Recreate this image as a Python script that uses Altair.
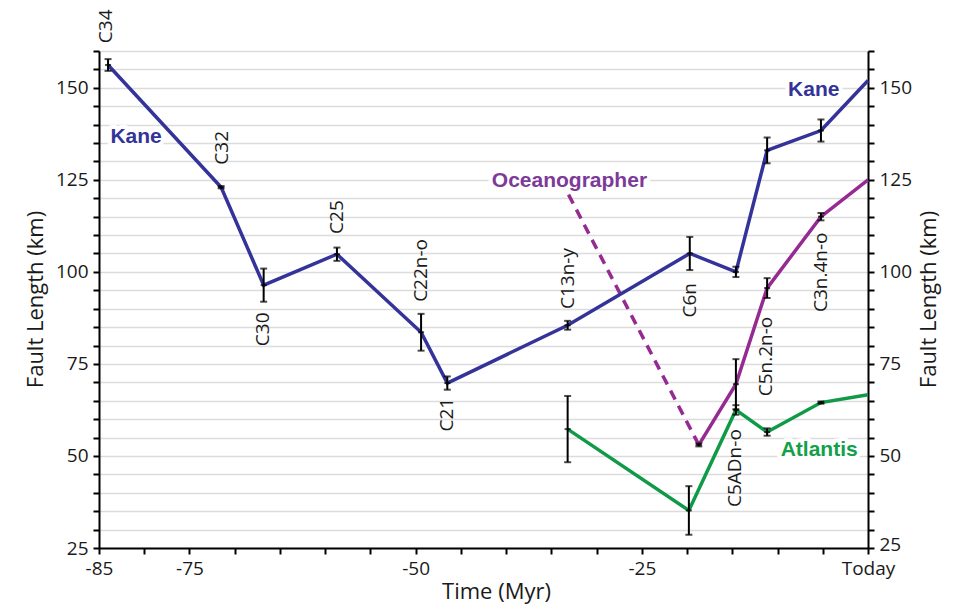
import altair as alt
import pandas as pd

# ---------------- data ----------------
kane_time = [-84.0, -71.5, -66.8, -58.7, -49.4, -46.5, -33.2, -19.7, -14.6, -11.15, -5.2, 0.0]
kane_len = [156.2, 123.0, 96.4, 104.8, 83.6, 69.8, 85.5, 105.0, 100.0, 133.0, 138.4, 152.0]
kane_err = [1.6, 0.3, 4.5, 1.8, 5.0, 1.8, 1.2, 4.5, 1.4, 3.5, 3.0, 0.0]

atl_time = [-33.2, -19.8, -14.6, -11.15, -5.2, 0.0]
atl_len = [57.3, 35.2, 62.5, 56.5, 64.5, 66.6]
atl_err = [9.0, 6.6, 1.3, 1.0, 0.3, 0.0]

oce_time = [-18.7, -14.6, -11.15, -5.2, 0.0]
oce_len = [53.0, 69.5, 95.6, 115.0, 125.0]
oce_err = [0.4, 6.8, 2.7, 1.0, 0.0]

oce_dash_time = [-33.1, -18.7]
oce_dash_len = [121.0, 53.0]

chron_labels = ["C34", "C32", "C30", "C25", "C22n-o", "C21", "C13n-y", "C6n",
                "C5ADn-o", "C5n.2n-o", "C3n.4n-o"]
chron_time = [-84.2, -71.4, -66.9, -58.7, -49.4, -46.5, -33.2, -19.7, -14.7, -11.3, -5.2]
chron_ypos = [166.7, 133.7, 84.4, 114.9, 100.4, 61.2, 98.2, 92.3, 46.7, 77.0, 99.9]

series_names = ["Kane", "Kane", "Oceanographer", "Atlantis"]
series_time = [-80.9, -6.0, -33.0, -5.4]
series_ypos = [136.7, 149.5, 124.7, 51.6]
series_colors = ["#33339a", "#33339a", "#7d3a98", "#12a04a"]

x_ticks = list(range(-85, 1, 5))
y_ticks = list(range(25, 161, 5))

KANE = "#33339a"
ATL = "#0f9a48"
OCE = "#952a90"

# ---------------- tables ----------------
kane_df = pd.DataFrame({"t": kane_time, "v": kane_len})
atl_df = pd.DataFrame({"t": atl_time, "v": atl_len})
oce_df = pd.DataFrame({"t": oce_time, "v": oce_len})
dash_df = pd.DataFrame({"t": oce_dash_time, "v": oce_dash_len})

err_rows = []
for ts, vs, es in [(kane_time, kane_len, kane_err), (atl_time, atl_len, atl_err),
                   (oce_time, oce_len, oce_err)]:
    for t, v, e in zip(ts, vs, es):
        if e > 0.2:
            err_rows.append({"t": t, "v": v, "lo": v - e, "hi": v + e})
err_df = pd.DataFrame(err_rows)

chron_df = pd.DataFrame({"label": chron_labels, "t": chron_time, "v": chron_ypos})
series_df = pd.DataFrame({"name": series_names, "t": series_time, "v": series_ypos,
                          "c": series_colors})

xscale = alt.Scale(domain=[-85, 0], nice=False, zero=False)
yscale = alt.Scale(domain=[25, 160], nice=False, zero=False)

FONT = "Open Sans"
TXT = "#1a1a1a"

x_axis = alt.Axis(
    values=x_ticks,
    labelExpr="datum.value == 0 ? 'Today' : ((datum.value == -85 || datum.value == -75 || datum.value == -50 || datum.value == -25) ? '-' + toString(-datum.value) : '')",
    tickSize=6, tickWidth=2, tickColor="black",
    domainColor="black", domainWidth=2,
    labelFont=FONT, labelFontSize=19, labelColor=TXT, labelPadding=5,
    labelFlush=False, labelOverlap=False, grid=False,
    title="Time (Myr)", titleFont=FONT, titleFontSize=22, titleFontWeight="normal",
    titleColor=TXT, titleX=397, titleY=43, titleBaseline="middle", titleAlign="center",
)

def y_axis(orient):
    common = dict(
        orient=orient,
        values=y_ticks,
        labelExpr="(datum.value % 25 == 0 && datum.value <= 150) ? toString(datum.value) : ''",
        tickSize=6, tickWidth=2, tickColor="black",
        domainColor="black", domainWidth=2,
        labelFont=FONT, labelFontSize=19, labelColor=TXT, labelPadding=5,
        labelOverlap=False,
        title="Fault Length (km)", titleFont=FONT, titleFontSize=22,
        titleFontWeight="normal", titleColor=TXT,
        titleAngle=270, titleY=248, titleBaseline="middle", titleAlign="center",
    )
    if orient == "left":
        return alt.Axis(grid=True, gridColor="#dcdcdc", gridWidth=1.5, titleX=-64, **common)
    return alt.Axis(grid=False, titleX=60,
                    labelOffset={"condition": {"test": "datum.value == 25", "value": -4},
                                 "value": 0},
                    **common)

def X(field="t:Q"):
    return alt.X(field, scale=xscale, axis=x_axis)

def Y(field="v:Q", ax=None):
    return alt.Y(field, scale=yscale, axis=ax)

grid_layer = alt.Chart(kane_df).mark_line(opacity=0).encode(
    x=X(), y=Y(ax=y_axis("left")))

right_axis_layer = alt.Chart(kane_df).mark_line(opacity=0).encode(
    x=X(), y=Y(ax=y_axis("right")))

kane_line = alt.Chart(kane_df).mark_line(color=KANE, strokeWidth=3.5).encode(x=X(), y=Y())
atl_line = alt.Chart(atl_df).mark_line(color=ATL, strokeWidth=3.5).encode(x=X(), y=Y())
oce_line = alt.Chart(oce_df).mark_line(color=OCE, strokeWidth=3.5).encode(x=X(), y=Y())
dash_line = alt.Chart(dash_df).mark_line(color=OCE, strokeWidth=3.5, strokeDash=[10, 7]).encode(
    x=X(), y=Y())

err_rule = alt.Chart(err_df).mark_rule(color="black", strokeWidth=2).encode(
    x=X(), y=Y("lo:Q"), y2="hi:Q")
cap_lo = alt.Chart(err_df).mark_tick(color="black", orient="horizontal", size=7, thickness=2).encode(
    x=X(), y=Y("lo:Q"))
cap_hi = alt.Chart(err_df).mark_tick(color="black", orient="horizontal", size=7, thickness=2).encode(
    x=X(), y=Y("hi:Q"))
cap_mid = alt.Chart(err_df).mark_tick(color="black", orient="horizontal", size=6, thickness=2).encode(
    x=X(), y=Y("v:Q"))

chron_text = alt.Chart(chron_df).mark_text(
    angle=270, font=FONT, fontSize=19, color=TXT, align="center", baseline="middle"
).encode(x=X(), y=Y(), text="label:N")

series_halo = alt.Chart(series_df).mark_text(
    font="Liberation Sans", fontSize=21, fontWeight="bold", align="center", baseline="middle",
    color="white", stroke="white", strokeWidth=8, strokeJoin="round"
).encode(x=X(), y=Y(), text="name:N")

series_text = alt.Chart(series_df).mark_text(
    font="Liberation Sans", fontSize=21, fontWeight="bold", align="center", baseline="middle"
).encode(x=X(), y=Y(), text="name:N", color=alt.Color("c:N", scale=None))

chart = alt.layer(
    grid_layer, right_axis_layer, series_halo,
    dash_line, kane_line, oce_line, atl_line,
    err_rule, cap_lo, cap_hi, cap_mid,
    chron_text, series_text,
).resolve_axis(y="independent").properties(
    width=769, height=497,
    autosize=alt.AutoSizeParams(type="none"),
    padding={"left": 99, "top": 51, "right": 105, "bottom": 58},
).configure_view(stroke=None).configure(background="white")

chart.save("out.html", embed_options={"renderer": "svg", "actions": False})
